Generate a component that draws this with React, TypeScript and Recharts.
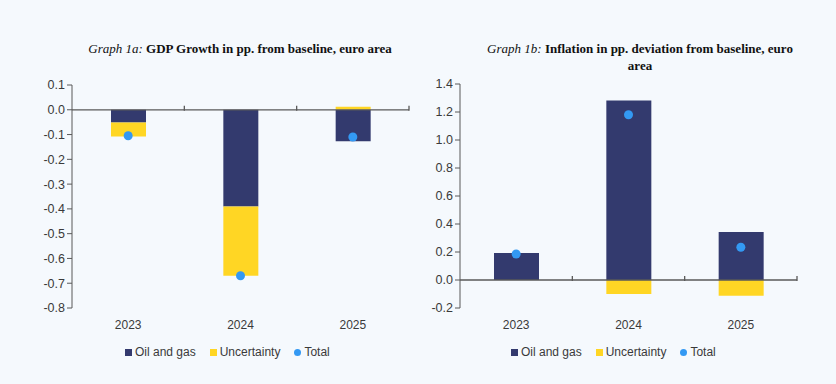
import { Bar, ComposedChart, Legend, Line, ReferenceLine, XAxis, YAxis } from "recharts";

const categories = ["2023", "2024", "2025"];
const seriesNames = ["Oil and gas", "Uncertainty", "Total"];

const gdpOilGas = [-0.051, -0.39, -0.127];
const gdpUncertainty = [-0.057, -0.28, 0.012];
const gdpTotal = [-0.105, -0.67, -0.11];
const gdpTicks = [0.1, 0, -0.1, -0.2, -0.3, -0.4, -0.5, -0.6, -0.7, -0.8];

const inflOilGas = [0.193, 1.283, 0.342];
const inflUncertainty = [0, -0.1, -0.113];
const inflTotal = [0.186, 1.18, 0.234];
const inflTicks = [1.4, 1.2, 1.0, 0.8, 0.6, 0.4, 0.2, 0, -0.2];

const NAVY = "#333a6e";
const YELLOW = "#ffd624";
const DOT = "#3399f3";
const AXIS = "#595959";
const TEXT = "#3a3a3a";
const FONT = "'Liberation Sans', Arial, sans-serif";

function buildRows(oil: number[], unc: number[], total: number[]) {
  return categories.map((year, i) => ({ year, oil: oil[i], unc: unc[i], total: total[i] }));
}

function ZeroLine(props: any) {
  const { x1, y1, x2 } = props;
  const step = (x2 - x1) / categories.length;
  const ticks = [];
  for (let k = 1; k <= categories.length; k++) {
    const x = x1 + step * k;
    ticks.push(<line key={k} x1={x} y1={y1 - 4} x2={x} y2={y1 + 1} stroke={AXIS} strokeWidth={1.3} />);
  }
  return (
    <g>
      <line x1={x1} y1={y1} x2={x2} y2={y1} stroke={AXIS} strokeWidth={1.3} />
      {ticks}
    </g>
  );
}

function LegendContent({ payload }: any) {
  const items = [...(payload || [])].sort(
    (a: any, b: any) => seriesNames.indexOf(a.value) - seriesNames.indexOf(b.value)
  );
  return (
    <div style={{ display: "flex", gap: 14, height: 22, alignItems: "center", fontFamily: FONT, fontSize: 12, color: TEXT }}>
      {items.map((item: any) => (
        <span key={item.value} style={{ display: "flex", alignItems: "center", gap: 3 }}>
          <span
            style={{
              width: 7,
              height: 7,
              background: item.type === "circle" ? DOT : item.color,
              borderRadius: item.type === "circle" ? "50%" : 0,
              display: "inline-block",
            }}
          />
          {item.value}
        </span>
      ))}
    </div>
  );
}

interface PanelProps {
  rows: ReturnType<typeof buildRows>;
  width: number;
  domain: [number, number];
  ticks: number[];
  yWidth: number;
  marginRight: number;
  top: number;
  barSize: number;
  legendLeft: number;
}

function Panel({ rows, width, domain, ticks, yWidth, marginRight, top, barSize, legendLeft }: PanelProps) {
  return (
    <ComposedChart
      width={width}
      height={384}
      data={rows}
      stackOffset="sign"
      margin={{ top, right: marginRight, left: 0, bottom: 21 }}
    >
      <XAxis
        dataKey="year"
        axisLine={false}
        tickLine={false}
        height={33}
        tick={{ fill: TEXT, fontSize: 12, fontFamily: FONT }}
        tickMargin={6}
      />
      <YAxis
        width={yWidth}
        domain={domain}
        ticks={ticks}
        interval={0}
        stroke={AXIS}
        tickSize={5}
        tick={{ fill: TEXT, fontSize: 12.5, fontFamily: FONT }}
        tickFormatter={(v: number) => v.toFixed(1)}
      />
      <ReferenceLine y={0} shape={<ZeroLine />} />
      <Bar dataKey="oil" name="Oil and gas" stackId="s" fill={NAVY} barSize={barSize} isAnimationActive={false} />
      <Bar dataKey="unc" name="Uncertainty" stackId="s" fill={YELLOW} barSize={barSize} isAnimationActive={false} />
      <Line
        dataKey="total"
        name="Total"
        stroke={DOT}
        strokeWidth={0}
        legendType="circle"
        dot={{ r: 4.5, fill: DOT, stroke: "none" }}
        activeDot={false}
        isAnimationActive={false}
      />
      <Legend
        verticalAlign="bottom"
        content={<LegendContent />}
        wrapperStyle={{ left: legendLeft, width: "auto" }}
      />
    </ComposedChart>
  );
}

const titleStyle = {
  position: "absolute" as const,
  fontFamily: "'Liberation Serif', 'Times New Roman', serif",
  fontSize: 13,
  color: "#111",
  textAlign: "center" as const,
  lineHeight: "17px",
};

export default function App() {
  return (
    <div style={{ position: "absolute", left: 0, top: 0, width: 836, height: 384, background: "#f5f9fd", overflow: "hidden" }}>
      <div style={{ position: "absolute", left: 0, top: 0 }}>
        <Panel
          rows={buildRows(gdpOilGas, gdpUncertainty, gdpTotal)}
          width={420}
          domain={[-0.8, 0.1]}
          ticks={gdpTicks}
          yWidth={72}
          marginRight={11}
          top={85}
          barSize={35}
          legendLeft={125}
        />
      </div>
      <div style={{ position: "absolute", left: 420, top: 0 }}>
        <Panel
          rows={buildRows(inflOilGas, inflUncertainty, inflTotal)}
          width={416}
          domain={[-0.2, 1.4]}
          ticks={inflTicks}
          yWidth={40}
          marginRight={39}
          top={84}
          barSize={45}
          legendLeft={91}
        />
      </div>
      <div style={{ ...titleStyle, left: 40, width: 400, top: 40 }}>
        <i>Graph 1a:</i> <b>GDP Growth in pp. from baseline, euro area</b>
      </div>
      <div style={{ ...titleStyle, left: 478, width: 324, top: 40 }}>
        <i>Graph 1b:</i> <b>Inflation in pp. deviation from baseline, euro area</b>
      </div>
    </div>
  );
}
